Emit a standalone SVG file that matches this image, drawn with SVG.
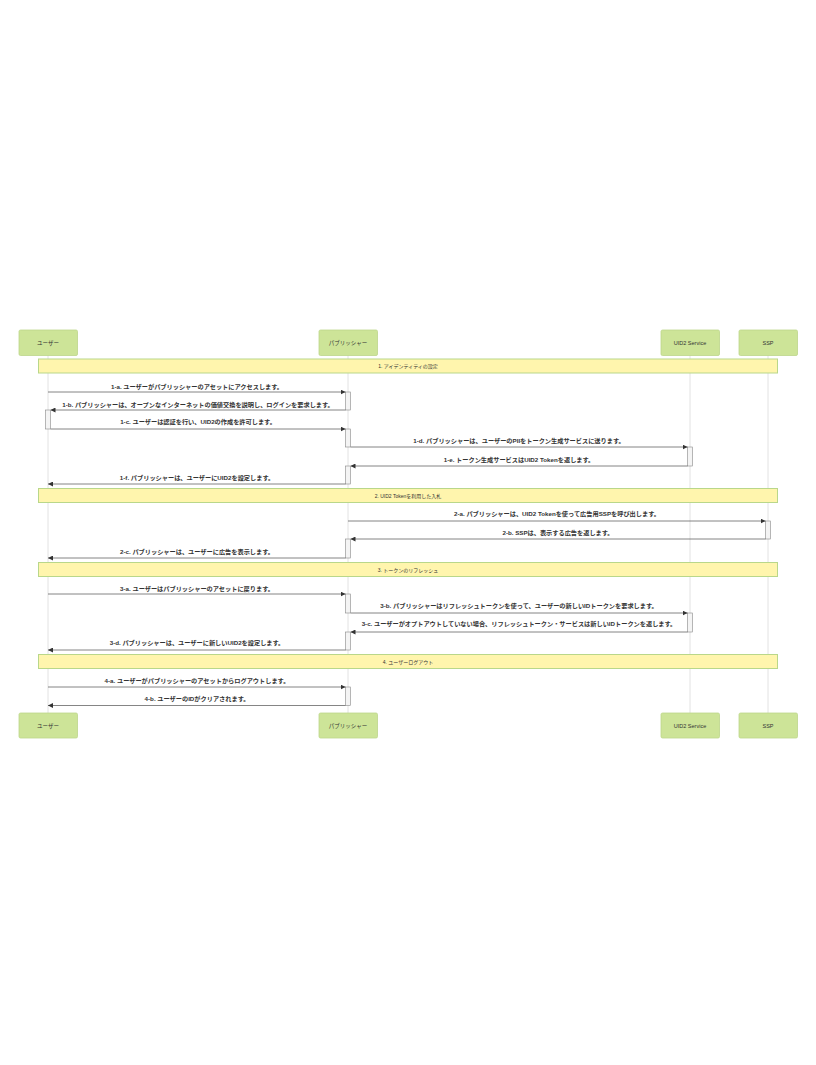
<svg xmlns="http://www.w3.org/2000/svg" width="816" height="1065" viewBox="0 0 816 1065">
<defs>
<style>
.actor{fill:#cde498;stroke:#bcd68a;stroke-width:0.8}
.atext{font-family:"Liberation Sans","Noto Sans CJK JP",sans-serif;font-size:5.5px;fill:#333;text-anchor:middle;dominant-baseline:central}
.life{stroke:#e2e2e2;stroke-width:1}
.note{fill:#fff5ad;stroke:#b9d78a;stroke-width:1}
.ntext{font-family:"Liberation Sans","Noto Sans CJK JP",sans-serif;font-size:5px;fill:#333;text-anchor:middle;dominant-baseline:central}
.msg{stroke:#666;stroke-width:0.8;fill:none;marker-end:url(#ah)}
.mtext{font-family:"Liberation Sans","Noto Sans CJK JP",sans-serif;font-size:6.2px;font-weight:bold;fill:#333;text-anchor:middle;dominant-baseline:central}
.act{fill:#f4f4f4;stroke:#888;stroke-width:0.6}
</style>
<marker id="ah" viewBox="0 0 10 10" refX="10" refY="5" markerWidth="5" markerHeight="5" markerUnits="userSpaceOnUse" orient="auto">
<path d="M0,0 L10,5 L0,10 z" fill="#333"/>
</marker>
</defs>
<rect width="816" height="1065" fill="#fff"/>
<g id="lifelines">
<line class="life" x1="48" y1="355" x2="48" y2="713"/>
<line class="life" x1="348" y1="355" x2="348" y2="713"/>
<line class="life" x1="690" y1="355" x2="690" y2="713"/>
<line class="life" x1="768" y1="355" x2="768" y2="713"/>
</g>
<g id="actor-user-top"><rect class="actor" x="19" y="330" width="58.5" height="25.5" rx="1.5"/><text class="atext" x="48" y="343">ユーザー</text></g>
<g id="actor-pub-top"><rect class="actor" x="319" y="330" width="58.5" height="25.5" rx="1.5"/><text class="atext" x="348" y="343">パブリッシャー</text></g>
<g id="actor-uid2-top"><rect class="actor" x="661" y="330" width="58.5" height="25.5" rx="1.5"/><text class="atext" x="690" y="343">UID2 Service</text></g>
<g id="actor-ssp-top"><rect class="actor" x="739" y="330" width="58.5" height="25.5" rx="1.5"/><text class="atext" x="768" y="343">SSP</text></g>
<g id="actor-user-bottom"><rect class="actor" x="19" y="713" width="58.5" height="25" rx="1.5"/><text class="atext" x="48" y="725.5">ユーザー</text></g>
<g id="actor-pub-bottom"><rect class="actor" x="319" y="713" width="58.5" height="25" rx="1.5"/><text class="atext" x="348" y="725.5">パブリッシャー</text></g>
<g id="actor-uid2-bottom"><rect class="actor" x="661" y="713" width="58.5" height="25" rx="1.5"/><text class="atext" x="690" y="725.5">UID2 Service</text></g>
<g id="actor-ssp-bottom"><rect class="actor" x="739" y="713" width="58.5" height="25" rx="1.5"/><text class="atext" x="768" y="725.5">SSP</text></g>
<g id="note1"><rect class="note" x="38.5" y="359" width="739" height="14"/><text class="ntext" x="408" y="366">1. アイデンティティの設定</text></g>
<g id="note2"><rect class="note" x="38.5" y="488.5" width="739" height="14"/><text class="ntext" x="408" y="495.5">2. UID2 Tokenを利用した入札</text></g>
<g id="note3"><rect class="note" x="38.5" y="562.5" width="739" height="14"/><text class="ntext" x="408" y="569.5">3. トークンのリフレッシュ</text></g>
<g id="note4"><rect class="note" x="38.5" y="654.5" width="739" height="14"/><text class="ntext" x="408" y="661.5">4. ユーザーログアウト</text></g>
<g id="activations">
<rect class="act" x="345.5" y="392" width="5" height="18"/>
<rect class="act" x="45.5" y="410" width="5" height="19"/>
<rect class="act" x="345.5" y="429" width="5" height="18"/>
<rect class="act" x="687.5" y="447" width="5" height="19"/>
<rect class="act" x="345.5" y="466" width="5" height="18"/>
<rect class="act" x="765.5" y="521" width="5" height="18"/>
<rect class="act" x="345.5" y="539" width="5" height="19"/>
<rect class="act" x="345.5" y="594" width="5" height="19"/>
<rect class="act" x="687.5" y="613" width="5" height="19"/>
<rect class="act" x="345.5" y="632" width="5" height="18"/>
<rect class="act" x="345.5" y="687" width="5" height="18.5"/>
</g>
<g id="connectors">
<line class="msg" x1="48" y1="392" x2="345.5" y2="392"/>
<line class="msg" x1="345.5" y1="410" x2="50.5" y2="410"/>
<line class="msg" x1="50.5" y1="429" x2="345.5" y2="429"/>
<line class="msg" x1="350.5" y1="447" x2="687.5" y2="447"/>
<line class="msg" x1="687.5" y1="466" x2="350.5" y2="466"/>
<line class="msg" x1="345.5" y1="484" x2="48" y2="484"/>
<line class="msg" x1="348" y1="521" x2="765.5" y2="521"/>
<line class="msg" x1="765.5" y1="539" x2="350.5" y2="539"/>
<line class="msg" x1="345.5" y1="558" x2="48" y2="558"/>
<line class="msg" x1="48" y1="594" x2="345.5" y2="594"/>
<line class="msg" x1="350.5" y1="613" x2="687.5" y2="613"/>
<line class="msg" x1="687.5" y1="632" x2="350.5" y2="632"/>
<line class="msg" x1="345.5" y1="650" x2="48" y2="650"/>
<line class="msg" x1="48" y1="687" x2="345.5" y2="687"/>
<line class="msg" x1="345.5" y1="705.5" x2="48" y2="705.5"/>
</g>
<g id="labels">
<text class="mtext" x="197" y="386">1-a. ユーザーがパブリッシャーのアセットにアクセスします。</text>
<text class="mtext" x="198" y="404">1-b. パブリッシャーは、オープンなインターネットの価値交換を説明し、ログインを要求します。</text>
<text class="mtext" x="198" y="421.5">1-c. ユーザーは認証を行い、UID2の作成を許可します。</text>
<text class="mtext" x="519" y="440.5">1-d. パブリッシャーは、ユーザーのPIIをトークン生成サービスに送ります。</text>
<text class="mtext" x="519" y="459">1-e. トークン生成サービスはUID2 Tokenを返します。</text>
<text class="mtext" x="197" y="477.5">1-f. パブリッシャーは、ユーザーにUID2を設定します。</text>
<text class="mtext" x="557" y="513.5">2-a. パブリッシャーは、UID2 Tokenを使って広告用SSPを呼び出します。</text>
<text class="mtext" x="558" y="532.5">2-b. SSPは、表示する広告を返します。</text>
<text class="mtext" x="197" y="551">2-c. パブリッシャーは、ユーザーに広告を表示します。</text>
<text class="mtext" x="197" y="588.5">3-a. ユーザーはパブリッシャーのアセットに戻ります。</text>
<text class="mtext" x="519" y="605">3-b. パブリッシャーはリフレッシュトークンを使って、ユーザーの新しいIDトークンを要求します。</text>
<text class="mtext" x="519" y="623.5">3-c. ユーザーがオプトアウトしていない場合、リフレッシュトークン・サービスは新しいIDトークンを返します。</text>
<text class="mtext" x="197" y="642">3-d. パブリッシャーは、ユーザーに新しいUID2を設定します。</text>
<text class="mtext" x="197" y="680">4-a. ユーザーがパブリッシャーのアセットからログアウトします。</text>
<text class="mtext" x="197" y="698.5">4-b. ユーザーのIDがクリアされます。</text>
</g>
</svg>
